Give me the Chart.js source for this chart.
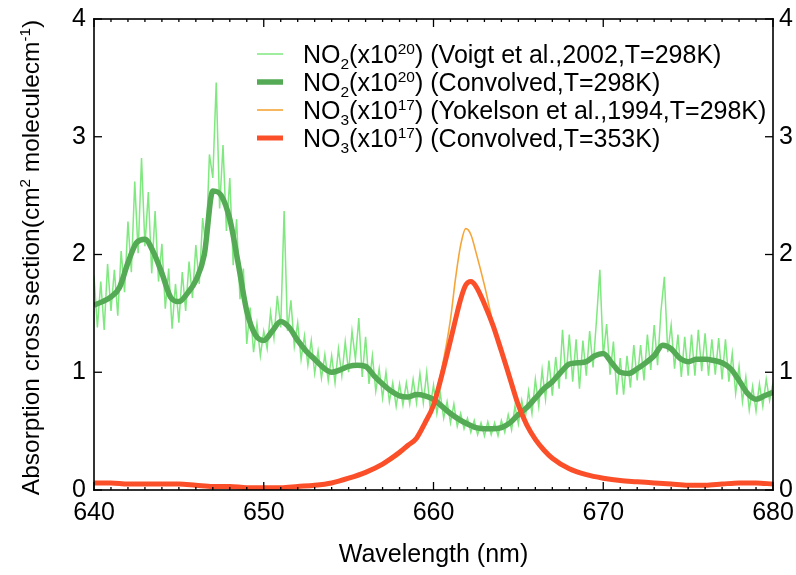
<!DOCTYPE html>
<html>
<head>
<meta charset="utf-8">
<script src="https://cdn.jsdelivr.net/npm/chart.js@4/dist/chart.umd.min.js"></script>
<style>
  html, body { margin: 0; padding: 0; background: #fff; }
</style>
</head>
<body>
<canvas id="spectrum" width="796" height="575"></canvas>
<script>
// wavelength grids (nm)
const wlFine = [
  640.0,640.2,640.4,640.6,640.8,641.0,641.2,641.4,641.6,641.8,
  642.0,642.2,642.4,642.6,642.8,643.0,643.2,643.4,643.6,643.8,
  644.0,644.2,644.4,644.6,644.8,645.0,645.2,645.4,645.6,645.8,
  646.0,646.2,646.4,646.6,646.8,647.0,647.2,647.4,647.6,647.8,
  648.0,648.2,648.4,648.6,648.8,649.0,649.2,649.4,649.6,649.8,
  650.0,650.2,650.4,650.6,650.8,651.0,651.2,651.4,651.6,651.8,
  652.0,652.2,652.4,652.6,652.8,653.0,653.2,653.4,653.6,653.8,
  654.0,654.2,654.4,654.6,654.8,655.0,655.2,655.4,655.6,655.8,
  656.0,656.2,656.4,656.6,656.8,657.0,657.2,657.4,657.6,657.8,
  658.0,658.2,658.4,658.6,658.8,659.0,659.2,659.4,659.6,659.8,
  660.0,660.2,660.4,660.6,660.8,661.0,661.2,661.4,661.6,661.8,
  662.0,662.2,662.4,662.6,662.8,663.0,663.2,663.4,663.6,663.8,
  664.0,664.2,664.4,664.6,664.8,665.0,665.2,665.4,665.6,665.8,
  666.0,666.2,666.4,666.6,666.8,667.0,667.2,667.4,667.6,667.8,
  668.0,668.2,668.4,668.6,668.8,669.0,669.2,669.4,669.6,669.8,
  670.0,670.2,670.4,670.6,670.8,671.0,671.2,671.4,671.6,671.8,
  672.0,672.2,672.4,672.6,672.8,673.0,673.2,673.4,673.6,673.8,
  674.0,674.2,674.4,674.6,674.8,675.0,675.2,675.4,675.6,675.8,
  676.0,676.2,676.4,676.6,676.8,677.0,677.2,677.4,677.6,677.8,
  678.0,678.2,678.4,678.6,678.8,679.0,679.2,679.4,679.6,679.8,
  680.0
];
const no2Voigt = [
  1.82,1.38,1.77,1.36,1.92,1.52,1.87,1.48,2.03,1.68,
  2.28,1.85,2.62,2.01,2.82,2.07,2.53,1.84,2.37,1.77,
  2.09,1.54,1.88,1.37,1.75,1.42,1.85,1.52,1.94,1.63,
  2.08,1.75,2.31,2.05,2.85,2.65,3.46,2.39,2.93,2.20,
  2.65,1.91,2.30,1.62,1.88,1.24,1.55,1.17,1.41,1.14,
  1.35,1.20,1.51,1.29,1.65,1.38,2.37,1.35,1.61,1.22,
  1.42,1.11,1.31,1.06,1.27,0.99,1.18,0.95,1.15,0.93,
  1.14,0.91,1.20,0.97,1.26,1.00,1.35,1.11,1.46,0.96,
  1.30,0.90,1.14,0.84,1.03,0.78,1.00,0.75,0.91,0.71,
  0.90,0.72,0.91,0.73,0.94,0.74,0.99,0.74,1.00,0.70,
  0.89,0.65,0.82,0.61,0.75,0.57,0.73,0.54,0.65,0.52,
  0.61,0.49,0.59,0.47,0.57,0.46,0.58,0.47,0.57,0.46,
  0.59,0.49,0.64,0.51,0.71,0.56,0.76,0.60,0.84,0.65,
  0.94,0.71,1.02,0.77,1.10,0.80,1.13,0.86,1.36,0.94,
  1.32,0.92,1.28,0.86,1.27,0.97,1.35,1.04,1.44,1.87,
  1.14,1.41,0.98,1.26,0.81,1.12,0.81,1.14,0.87,1.23,
  0.93,1.23,0.93,1.32,1.02,1.40,1.06,1.52,1.81,1.17,
  1.40,1.03,1.32,0.96,1.30,0.97,1.32,0.97,1.36,1.01,
  1.33,0.97,1.28,0.98,1.29,0.94,1.28,0.92,1.16,0.82,
  1.05,0.75,0.96,0.68,0.88,0.67,0.90,0.71,0.94,0.76,
  0.91
];

const wlHalf = [
  640,640.5,641,641.5,642,642.5,643,643.5,644,644.5,
  645,645.5,646,646.5,647,647.5,648,648.5,649,649.5,
  650,650.5,651,651.5,652,652.5,653,653.5,654,654.5,
  655,655.5,656,656.5,657,657.5,658,658.5,659,659.5,
  660,660.5,661,661.5,662,662.5,663,663.5,664,664.5,
  665,665.5,666,666.5,667,667.5,668,668.5,669,669.5,
  670,670.5,671,671.5,672,672.5,673,673.5,674,674.5,
  675,675.5,676,676.5,677,677.5,678,678.5,679,679.5,
  680
];
const no2Conv = [
  1.57,1.60,1.64,1.72,1.93,2.10,2.13,2.02,1.84,1.64,
  1.60,1.67,1.78,2.00,2.54,2.50,2.30,1.92,1.52,1.32,
  1.27,1.35,1.43,1.38,1.27,1.18,1.11,1.04,1.00,1.02,
  1.05,1.06,1.05,0.97,0.90,0.84,0.80,0.79,0.81,0.80,
  0.77,0.71,0.65,0.60,0.56,0.53,0.52,0.52,0.53,0.57,
  0.64,0.70,0.78,0.86,0.92,1.00,1.07,1.08,1.09,1.14,
  1.16,1.08,1.00,0.99,1.03,1.08,1.14,1.23,1.20,1.12,
  1.09,1.11,1.11,1.10,1.08,1.03,0.93,0.82,0.77,0.80,
  0.83
];

const wlNo3 = [
  640,641,642,643,644,645,646,647,648,649,650,651,652,653,654,655,656,657,658,
  658.5,659,659.5,660,660.5,661,661.3,661.6,661.9,662.2,662.5,
  663,663.5,664,664.5,665,665.5,666,666.5,667,
  668,669,670,671,672,673,674,675,676,677,678,679,680
];
const no3Yokelson = [
  0.06,0.06,0.05,0.05,0.05,0.05,0.04,0.03,0.03,0.02,0.02,0.02,0.03,0.04,0.06,0.09,0.14,0.21,0.30,
  0.37,0.45,0.58,0.74,1.04,1.45,1.80,2.08,2.22,2.17,2.02,
  1.74,1.42,1.15,0.93,0.72,0.55,0.43,0.34,0.27,
  0.18,0.13,0.10,0.08,0.07,0.06,0.05,0.04,0.04,0.05,0.06,0.06,0.05
];
const no3Conv = [
  0.06,0.06,0.05,0.05,0.05,0.05,0.04,0.03,0.03,0.02,0.02,0.02,0.03,0.04,0.06,0.10,0.15,0.22,0.32,
  0.38,0.44,0.57,0.72,0.98,1.27,1.45,1.62,1.74,1.77,1.73,
  1.58,1.40,1.18,0.95,0.72,0.55,0.43,0.34,0.27,
  0.18,0.13,0.10,0.08,0.07,0.06,0.05,0.04,0.04,0.05,0.06,0.06,0.05
];

const xTicks = [640, 650, 660, 670, 680];
const yTicks = [0, 1, 2, 3, 4];

const seriesNames = [
  'NO_{2}(x10^{20}) (Voigt et al.,2002,T=298K)',
  'NO_{2}(x10^{20}) (Convolved,T=298K)',
  'NO_{3}(x10^{17}) (Yokelson et al.,1994,T=298K)',
  'NO_{3}(x10^{17}) (Convolved,T=353K)'
];

const FONT = '"Liberation Sans", Arial, sans-serif';
const FS = 25;

function pairs(xs, ys) {
  return xs.map((x, i) => ({x: x, y: ys[i]}));
}

function richParts(str) {
  const re = /([_^])\{([^}]*)\}/g;
  const parts = [];
  let last = 0, m;
  while ((m = re.exec(str))) {
    if (m.index > last) parts.push({t: str.slice(last, m.index), k: ''});
    parts.push({t: m[2], k: m[1]});
    last = re.lastIndex;
  }
  if (last < str.length) parts.push({t: str.slice(last), k: ''});
  return parts;
}

function richText(ctx, str, x, y, size, measureOnly) {
  let cx = x;
  for (const p of richParts(str)) {
    const s = p.k ? size * 0.62 : size;
    ctx.font = s + 'px ' + FONT;
    const dy = p.k === '_' ? size * 0.22 : p.k === '^' ? -size * 0.36 : 0;
    if (!measureOnly) ctx.fillText(p.t, cx, y + dy);
    cx += ctx.measureText(p.t).width;
  }
  return cx - x;
}

// box + inward ticks, drawn as filled rects
const boxPlugin = {
  id: 'boxTicks',
  afterDraw(chart) {
    const ctx = chart.ctx;
    const a = chart.chartArea;
    const xs = chart.scales.x, ys = chart.scales.y;
    const lw = 1.6;
    ctx.save();
    ctx.fillStyle = '#000';
    ctx.fillRect(a.left - lw / 2, a.top - lw / 2, a.right - a.left + lw, lw);
    ctx.fillRect(a.left - lw / 2, a.bottom - lw / 2, a.right - a.left + lw, lw);
    ctx.fillRect(a.left - lw / 2, a.top - lw / 2, lw, a.bottom - a.top + lw);
    ctx.fillRect(a.right - lw / 2, a.top - lw / 2, lw, a.bottom - a.top + lw);
    for (let v = xs.min; v <= xs.max; v++) {
      const px = xs.getPixelForValue(v);
      const len = xTicks.indexOf(v) >= 0 ? 8 : 3;
      ctx.fillRect(px - 0.65, a.bottom - len, 1.3, len);
      ctx.fillRect(px - 0.65, a.top, 1.3, len);
    }
    yTicks.forEach(v => {
      const py = ys.getPixelForValue(v);
      ctx.fillRect(a.left, py - 0.65, 8, 1.3);
      ctx.fillRect(a.right - 8, py - 0.65, 8, 1.3);
    });
    ctx.restore();
  }
};

// legend + axis titles (with sub/superscripts)
const textPlugin = {
  id: 'richTexts',
  afterDraw(chart) {
    const {ctx, chartArea: a} = chart;
    ctx.save();
    ctx.fillStyle = '#000';
    ctx.textBaseline = 'alphabetic';
    ctx.textAlign = 'left';

    const ds = chart.data.datasets;
    const rowY = [54, 82, 110, 138];
    for (let i = 0; i < seriesNames.length; i++) {
      const cy = rowY[i];
      ctx.strokeStyle = ds[i].borderColor;
      ctx.lineWidth = ds[i].borderWidth;
      ctx.beginPath();
      ctx.moveTo(257, cy); ctx.lineTo(283, cy);
      ctx.stroke();
      richText(ctx, seriesNames[i], 303, cy + FS * 0.36, FS);
    }

    ctx.font = FS + 'px ' + FONT;
    ctx.textAlign = 'center';
    ctx.fillText('Wavelength (nm)', (a.left + a.right) / 2, 562);

    ctx.textAlign = 'left';
    const ySize = 24.5;
    const yTitle = 'Absorption cross section(cm^{2} moleculecm^{-1})';
    const w = richText(ctx, yTitle, 0, 0, ySize, true);
    ctx.translate(39, (a.top + a.bottom) / 2 + 3);
    ctx.rotate(-Math.PI / 2);
    richText(ctx, yTitle, -w / 2, 0, ySize);
    ctx.restore();
  }
};

const noGrid = { display: false, drawTicks: false };
const noBorder = { display: false };
const tickFont = { family: FONT, size: FS };

new Chart(document.getElementById('spectrum'), {
  type: 'line',
  data: {
    datasets: [
      {
        label: seriesNames[0],
        data: pairs(wlFine, no2Voigt),
        borderColor: '#7fe87f',
        borderWidth: 1.5,
        pointRadius: 0,
        tension: 0,
        order: 4
      },
      {
        label: seriesNames[1],
        data: pairs(wlHalf, no2Conv),
        borderColor: '#55aa55',
        borderWidth: 5.5,
        pointRadius: 0,
        cubicInterpolationMode: 'monotone',
        order: 3
      },
      {
        label: seriesNames[2],
        data: pairs(wlNo3, no3Yokelson),
        borderColor: '#f6a538',
        borderWidth: 1.6,
        pointRadius: 0,
        cubicInterpolationMode: 'monotone',
        order: 2
      },
      {
        label: seriesNames[3],
        data: pairs(wlNo3, no3Conv),
        borderColor: '#fb4f2a',
        borderWidth: 5,
        pointRadius: 0,
        cubicInterpolationMode: 'monotone',
        order: 1
      }
    ]
  },
  options: {
    responsive: false,
    animation: false,
    layout: { padding: { top: 19, left: 0, right: 0, bottom: 0 } },
    plugins: {
      legend: { display: false },
      tooltip: { enabled: false }
    },
    scales: {
      x: {
        type: 'linear',
        min: 640,
        max: 680,
        grid: noGrid,
        border: noBorder,
        afterBuildTicks: s => { s.ticks = xTicks.map(v => ({value: v})); },
        afterFit: s => { s.height = 85; s.paddingLeft = 0; s.paddingRight = 0; },
        ticks: { padding: 8, color: '#000', maxRotation: 0, font: tickFont }
      },
      y: {
        min: 0,
        max: 4,
        position: 'left',
        grid: noGrid,
        border: noBorder,
        afterBuildTicks: s => { s.ticks = yTicks.map(v => ({value: v})); },
        afterFit: s => { s.width = 94; s.paddingTop = 0; s.paddingBottom = 0; },
        ticks: { padding: 8, color: '#000', font: tickFont }
      },
      y2: {
        min: 0,
        max: 4,
        position: 'right',
        grid: noGrid,
        border: noBorder,
        afterBuildTicks: s => { s.ticks = yTicks.map(v => ({value: v})); },
        afterFit: s => { s.width = 23; s.paddingTop = 0; s.paddingBottom = 0; },
        ticks: { padding: 6, color: '#000', font: tickFont }
      }
    }
  },
  plugins: [boxPlugin, textPlugin]
});
</script>
</body>
</html>
